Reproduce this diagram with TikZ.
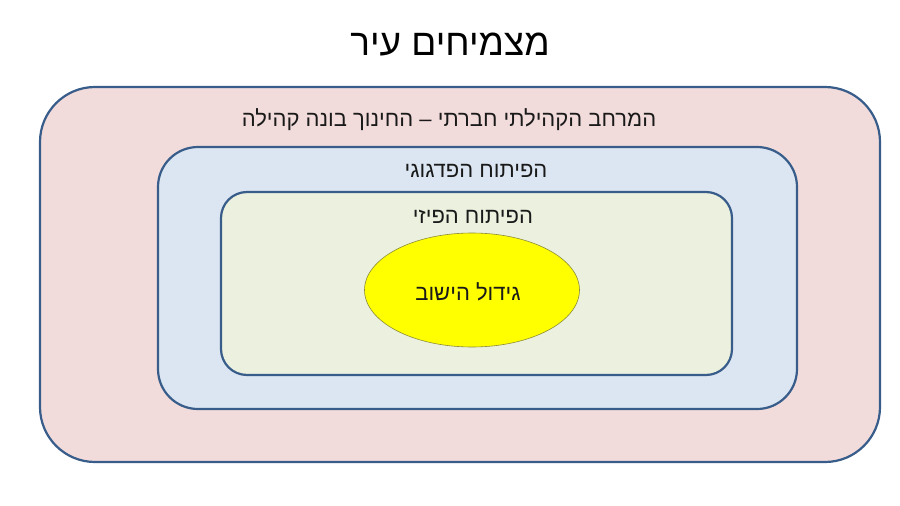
\documentclass[tikz,border=0pt]{standalone}
\usepackage{fontspec}
\usetikzlibrary{shapes.geometric}
\setmainfont{Liberation Sans}
\newfontfamily\hebfont[Script=Hebrew]{Liberation Sans}
\TeXXeTstate=1
\definecolor{outerfill}{HTML}{F2DCDB}
\definecolor{midfill}{HTML}{DCE6F2}
\definecolor{innerfill}{HTML}{EBF1DE}
\definecolor{framecol}{HTML}{385D8A}
\definecolor{ellborder}{HTML}{8C8C3C}
\definecolor{ellfill}{HTML}{FFFF00}
\definecolor{txtcol}{HTML}{1A1A1A}
\tikzset{
  frame/.style={draw=framecol, line width=2.2pt},
  lbl/.style={font=\hebfont\fontsize{22}{26}\selectfont, text=txtcol, inner sep=0pt},
}
\begin{document}
\begin{tikzpicture}[x=1pt,y=-1pt]
\useasboundingbox[fill=white] (0,0) rectangle (900,506);
\path[frame, fill=outerfill, rounded corners=55pt] (40,87) rectangle (880,462);
\path[frame, fill=midfill, rounded corners=40pt] (158,147) rectangle (797,409);
\path[frame, fill=innerfill, rounded corners=26pt] (221,192) rectangle (732,375);
\node[ellipse, draw=ellborder, line width=0.6pt, fill=ellfill, minimum width=215pt, minimum height=114pt, inner sep=0pt] (ell) at (472,290) {};
\node[font=\hebfont\fontsize{37}{42}\selectfont, text=black, inner sep=0pt] (title) at (450,45) {\beginR מצמיחים עיר\endR};
\node[lbl] (outerlbl) at (449,120) {\beginR המרחב הקהילתי חברתי – החינוך בונה קהילה\endR};
\node[lbl] (midlbl) at (476,171) {\beginR הפיתוח הפדגוגי\endR};
\node[lbl] (innerlbl) at (473,217) {\beginR הפיתוח הפיזי\endR};
\node[lbl] (elllbl) at (468,292) {\beginR גידול הישוב\endR};
\end{tikzpicture}
\end{document}
